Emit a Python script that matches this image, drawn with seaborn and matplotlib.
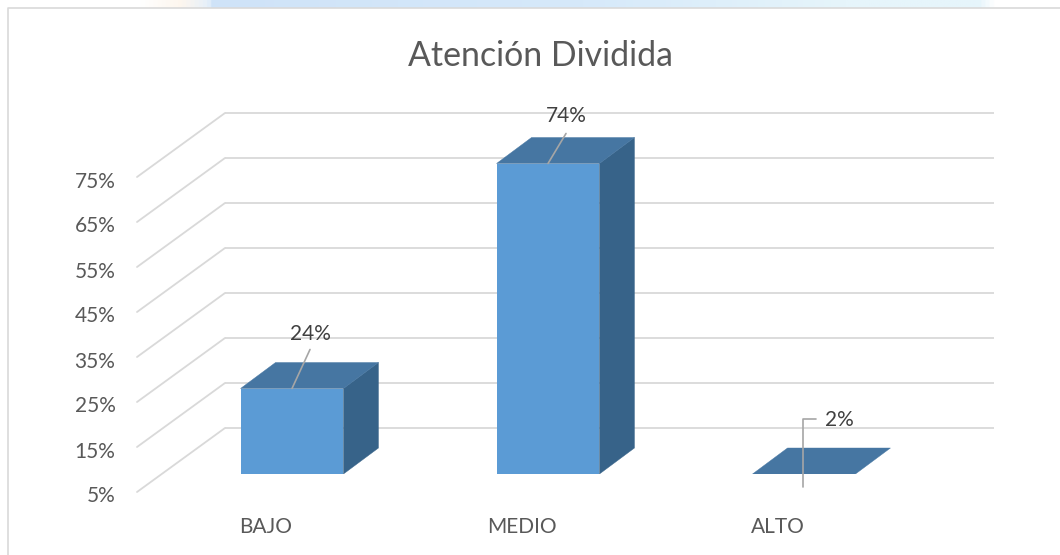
import numpy as np
import seaborn as sns
import matplotlib.pyplot as plt
from matplotlib.colors import LinearSegmentedColormap
from matplotlib.lines import Line2D
from matplotlib.patches import ConnectionPatch, Polygon
from matplotlib.transforms import Affine2D

categories = ['BAJO', 'MEDIO', 'ALTO']
values = [24, 74, 2]
value_labels = ['24%', '74%', '2%']
ticks = [5, 15, 25, 35, 45, 55, 65, 75]
tick_labels = ['5%', '15%', '25%', '35%', '45%', '55%', '65%', '75%']
title = 'Atención Dividida'

W, H = 1060, 555
px_x = 256        # pixels per category
px_y = 4.5        # pixels per percent
depth_x, depth_y = 35, 26

sns.set_theme(style='white')
plt.rcParams['font.family'] = ['Lato', 'DejaVu Sans']

fig = plt.figure(figsize=(W / 100, H / 100), dpi=100)


def box(left, top, right, bottom, **kw):
    return fig.add_axes([left / W, 1 - bottom / H, (right - left) / W, (bottom - top) / H], **kw)


def y_lim(floor, top, base=None):
    base = floor if base is None else base
    return 5 - (floor - base) / px_y, 5 + (base - top) / px_y


# pale strip of the page above the chart frame
strip = LinearSegmentedColormap.from_list('strip', [
    (0, '#ffffff'), (0.13, '#ffffff'), (0.17, '#fdf6ee'), (0.195, '#e6f0fa'), (0.2, '#cfe3f8'),
    (0.55, '#d6e9fa'), (0.8, '#e6f5fb'), (0.925, '#e6f5fb'), (0.94, '#ffffff'), (1, '#ffffff')])
ax_strip = box(0, 0, W, 8)
ax_strip.imshow(np.linspace(0, 1, 512).reshape(1, -1), cmap=strip, aspect='auto')
ax_strip.axis('off')

# front plane: tick labels
ax_front = box(137, 20, 994, 492, zorder=0)
ax_front.set_xlim((137 - 266) / px_x, (994 - 266) / px_x)
ax_front.set_ylim(*y_lim(492, 20))
ax_front.set_xticks(range(len(categories)), categories)
ax_front.set_yticks(ticks, tick_labels)
ax_front.tick_params(axis='x', length=0, pad=18.3, labelsize=15, labelcolor='#595959')
ax_front.tick_params(axis='y', length=0, pad=15.5, labelsize=15, labelcolor='#595959')
for label in ax_front.get_yticklabels():
    label.set_transform(label.get_transform() + Affine2D().translate(0, -2.5))
sns.despine(ax=ax_front, left=True, bottom=True)
ax_front.patch.set_alpha(0)

# back wall: gridlines
ax_back = box(225, 20, 994, 440, zorder=1)
ax_back.set_ylim(*y_lim(440, 20, base=428))
ax_back.set_yticks(ticks)
ax_back.set_xticks([])
ax_back.set_yticklabels([])
ax_back.tick_params(length=0)
ax_back.grid(axis='y', color='#d9d9d9', lw=1.3)
ax_back.patch.set_alpha(0)
sns.despine(ax=ax_back, left=True, bottom=True)

for t in ticks:
    side = ConnectionPatch(xyA=(0, t), coordsA=ax_front.get_yaxis_transform(),
                           xyB=(0, t), coordsB=ax_back.get_yaxis_transform(),
                           color='#d9d9d9', lw=1.3, zorder=0.5)
    fig.add_artist(side)

# bar plane
ax = box(137, 20, 994, 474, zorder=2)
sns.barplot(x=categories, y=values, color='#5b9bd5', saturation=1, width=0.402, linewidth=0, ax=ax)
ax.set_xlim((137 - 292) / px_x, (994 - 292) / px_x)
ax.set_ylim(*y_lim(474, 20))
ax.axis('off')

dx = depth_x / px_x
dy = depth_y / px_y
for bar in ax.patches:
    x0, x1 = bar.get_x(), bar.get_x() + bar.get_width()
    top = max(bar.get_height(), 5)
    if top > 5:
        ax.add_patch(Polygon([(x1, 5), (x1 + dx, 5 + dy), (x1 + dx, top + dy), (x1, top)],
                             fc='#376389', ec='#376389', lw=0.3, zorder=3))
    ax.add_patch(Polygon([(x0, top), (x1, top), (x1 + dx, top + dy), (x0 + dx, top + dy)],
                         fc='#4676a2', ec='#4676a2', lw=0.3, zorder=3))

# data labels with their leader lines, offsets in pixels from the bar top
leaders = [[(0, 0), (18, 39)], [(0, 0), (18, 30)], [(-1.5, -13), (-1.5, 55), (12, 55)]]
label_pos = [(18, 55), (18.5, 47), (35, 54)]
for i, v in enumerate(values):
    top = max(v, 5)
    ox, oy = zip(*leaders[i])
    base = ax.transData.transform((i, top))
    ax.add_line(Line2D(base[0] + np.array(ox), base[1] + np.array(oy), transform=Affine2D(),
                       color='#a6a6a6', lw=1.2, zorder=4, clip_on=False))
    ax.annotate(value_labels[i], xy=(i, top), xytext=label_pos[i], textcoords='offset pixels',
                ha='center', va='center', fontsize=15, color='#404040', zorder=5)

fig.text(540.5 / W, 1 - 55.5 / H, title, ha='center', va='center', fontsize=24.4, color='#595959')

# chart frame, only top and left fall inside the crop
fig.add_artist(Line2D([8 / W, 8 / W, 1], [0, 1 - 8 / H, 1 - 8 / H], transform=fig.transFigure,
                      color='#d9d9d9', lw=1.2))

fig.savefig('out.png', dpi=100)
